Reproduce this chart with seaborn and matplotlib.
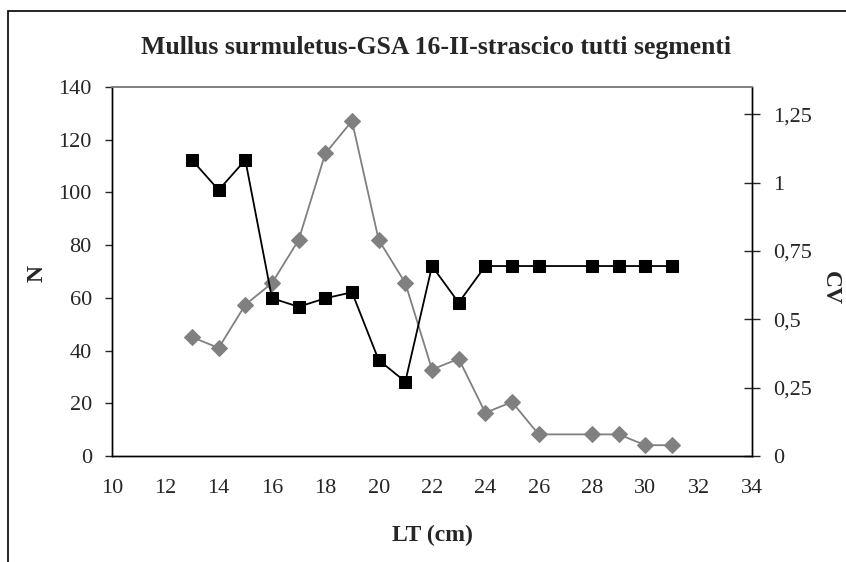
import numpy as np
import pandas as pd
import matplotlib
matplotlib.use("Agg")
import matplotlib.pyplot as plt
from matplotlib.patches import Rectangle
import seaborn as sns

# dati
lt = [13, 14, 15, 16, 17, 18, 19, 20, 21, 22, 23, 24, 25, 26, 28, 29, 30, 31]
n_vals = [45.1, 41.0, 57.4, 65.6, 82.0, 114.8, 127.1, 82.0, 65.6, 32.8,
          36.9, 16.4, 20.5, 8.2, 8.2, 8.2, 4.1, 4.1]
cv_vals = [1.083, 0.973, 1.083, 0.577, 0.546, 0.577, 0.599, 0.351, 0.272, 0.695,
           0.561, 0.695, 0.695, 0.695, 0.695, 0.695, 0.695, 0.695]
x_ticks = list(range(10, 35, 2))
n_ticks = list(range(0, 141, 20))
cv_ticks = [0, 0.25, 0.5, 0.75, 1, 1.25]
cv_labels = ["0", "0,25", "0,5", "0,75", "1", "1,25"]

df = pd.DataFrame({"LT": lt, "N": n_vals, "CV": cv_vals})

sns.set_style("white")
plt.rcParams['font.family'] = ['Liberation Serif', 'DejaVu Serif']

fig = plt.figure(figsize=(8.46, 5.62), dpi=100)
ax = fig.add_axes([112/846, 1 - 456/562, 640/846, 369/562])
ax2 = ax.twinx()

sns.lineplot(data=df, x="LT", y="N", ax=ax, color="#808080", marker="D",
             markersize=8, markeredgecolor="#808080", linewidth=1.3)
sns.lineplot(data=df, x="LT", y="CV", ax=ax2, color="black", marker="s",
             markersize=8, markeredgecolor="black", linewidth=1.3)

ax.set_xlim(10, 34)
ax.set_ylim(0, 140)
ax2.set_ylim(0, 1.35)
ax.set_xticks(x_ticks)
ax.set_yticks(n_ticks)
ax2.set_yticks(cv_ticks)
ax2.set_yticklabels(cv_labels)

ax.tick_params(axis='x', direction='out', length=6.5, width=1, pad=10, labelsize=16)
ax.tick_params(axis='y', direction='out', length=5, width=1, pad=9.5, labelsize=16, left=True)
ax2.tick_params(axis='y', direction='inout', length=12, width=1, pad=9.5, labelsize=16, right=True)

for a in (ax, ax2):
    for s in ['left', 'bottom', 'right']:
        a.spines[s].set_color('black')
        a.spines[s].set_linewidth(1)
    a.spines['top'].set_color('#808080')
    a.spines['top'].set_linewidth(1.2)

ax.set_xlabel("")
ax.set_ylabel("")
ax2.set_ylabel("")

fig.text(432/846, 1 - 535/562, "LT (cm)", ha='center', va='center',
         fontsize=17, fontweight='bold')
fig.text(37/846, 1 - 273/562, "N", ha='center', va='center', rotation=90,
         fontsize=17, fontweight='bold')
fig.text(830/846, 1 - 288/562, "CV", ha='center', va='center', rotation=-90,
         fontsize=17, fontweight='bold')

fig.text(436/846, 1 - 54/562, "Mullus surmuletus-GSA 16-II-strascico tutti segmenti",
         ha='center', va='baseline', fontsize=18.5, fontweight='bold')

# cornice esterna del grafico
fig.patches.append(Rectangle((8/846, -0.1), 1.2, 1 - 11/562 + 0.1,
                             transform=fig.transFigure, fill=False,
                             edgecolor='black', linewidth=1.2))

fig.savefig("out.png", dpi=100)
